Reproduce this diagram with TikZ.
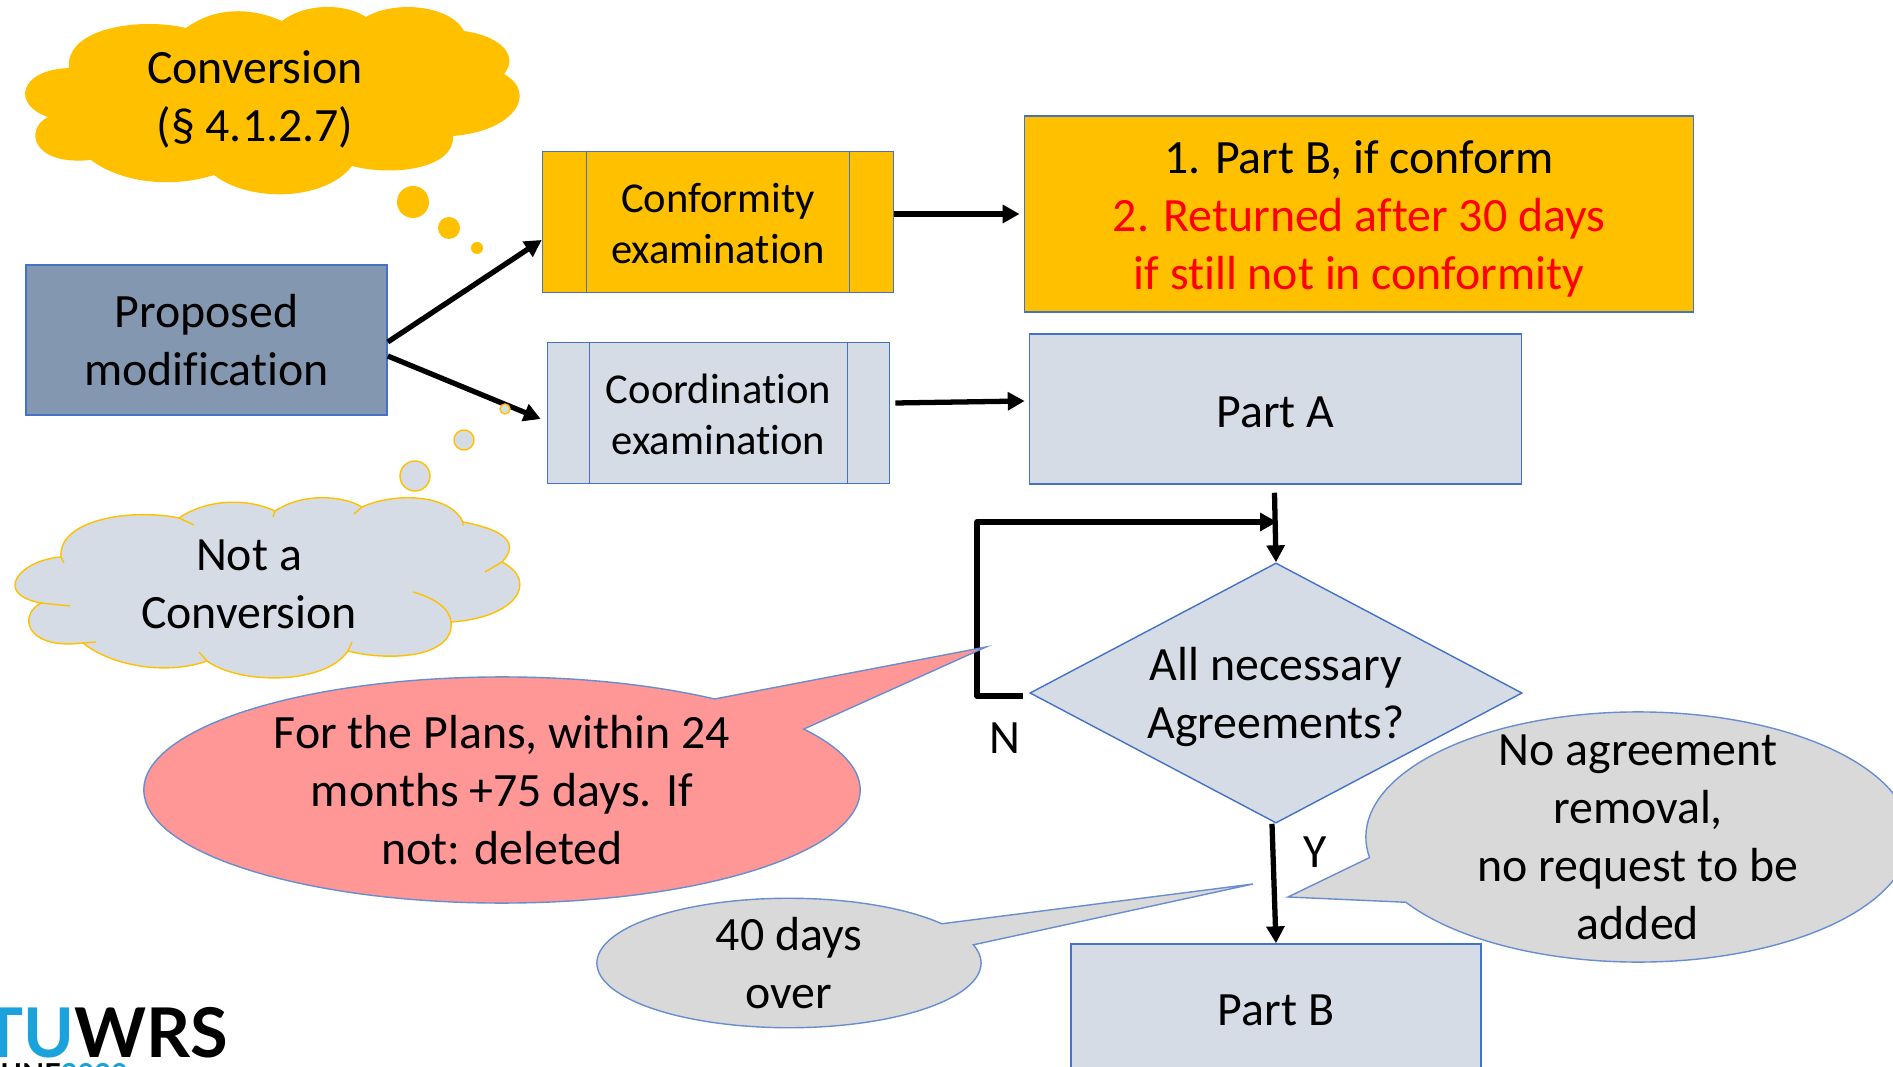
\documentclass[tikz,border=0pt]{standalone}
\usepackage{fontspec}
\setmainfont{Carlito}[Ligatures=NoCommon]
\newfontfamily\logofont{Lato}
\usepackage{tikz}
\usetikzlibrary{calc}
\usetikzlibrary{arrows.meta}
\usetikzlibrary{shapes.geometric}
\usetikzlibrary{shapes.callouts}
\definecolor{amber}{HTML}{FFC000}
\definecolor{paleblue}{HTML}{D6DCE5}
\definecolor{slateblue}{HTML}{8497B0}
\definecolor{edgeblue}{HTML}{4472C4}
\definecolor{salmon}{HTML}{FF9797}
\definecolor{callgrey}{HTML}{D9D9D9}
\definecolor{logoblue}{HTML}{1BA1DC}
\tikzset{
  every node/.style={font=\fontsize{13.6}{16.5}\selectfont, align=center},
  stepbox/.style={draw=edgeblue, line width=0.4pt, inner sep=0pt},
  smalltext/.style={font=\fontsize{12.1}{14.6}\selectfont, text height=23.8pt},
  bubble/.style={draw=edgeblue!80!white, line width=0.4pt, inner sep=0pt, ellipse callout},
  flow/.style={-{Triangle[length=4.8pt,width=5pt]}, line width=1.5pt, line join=round},
  cloudedge/.style={draw=amber, line width=0.4pt}
}

\begin{document}
\begin{tikzpicture}[x=0.01cm,y=-0.01cm]
    \useasboundingbox (0,0) rectangle (1893,1067);
    \clip (0,0) rectangle (1893,1067);

    % clouds
    \fill[amber] (186,28) .. controls (140,17) and (65,28) .. (69,68)
        .. controls (18,70) and (12,105) .. (48,117)
        .. controls (25,128) and (30,166) .. (91,160)
        .. controls (120,182) and (170,189) .. (214,175)
        .. controls (250,203) and (325,201) .. (352,166)
        .. controls (395,177) and (455,168) .. (453,136)
        .. controls (515,131) and (538,93) .. (504,74)
        .. controls (518,58) and (505,37) .. (464,31)
        .. controls (450,5) and (395,0) .. (366,17)
        .. controls (345,3) and (305,3) .. (282,21)
        .. controls (250,7) and (215,7) .. (186,28) -- cycle;
    \fill[amber] (413,202) ellipse[x radius=16, y radius=16];
    \fill[amber] (449,228) ellipse[x radius=11, y radius=11];
    \fill[amber] (477,248) ellipse[x radius=6, y radius=6];
    \node (conversion) at (255,99) {Conversion\\(§ 4.1.2.7)};

    \draw[cloudedge, fill=paleblue] (179,518) .. controls (130,508) and (58,520) .. (61,557)
        .. controls (20,560) and (-8,594) .. (41,603)
        .. controls (18,615) and (25,650) .. (83,643)
        .. controls (110,665) and (165,676) .. (207,661)
        .. controls (240,685) and (325,685) .. (348,651)
        .. controls (390,662) and (455,657) .. (451,622)
        .. controls (515,618) and (540,582) .. (502,562)
        .. controls (520,543) and (505,530) .. (463,522)
        .. controls (450,494) and (395,492) .. (362,507)
        .. controls (340,494) and (300,494) .. (275,511)
        .. controls (245,497) and (205,500) .. (179,518) -- cycle;
    \draw[cloudedge] (179,518) -- (194,525) (61,557) -- (64,563) (41,603) -- (70,606)
        (83,643) -- (96,642) (207,661) -- (199,652) (348,651) -- (352,642)
        (502,562) -- (485,572) (463,522) -- (463,526) (362,507) -- (354,514)
        (275,511) -- (273,517);
    \draw[cloudedge] (451,622) .. controls (450,609) and (435,598) .. (413,592);
    \node (noconversion) at (249,584) {Not a\\Conversion};

    % boxes
    \node[stepbox,text height=26.1pt,fill=slateblue,minimum width=3.61cm,minimum height=1.5cm] at (206.5,340) (prop) {Proposed\\modification};
    \node[stepbox,smalltext,fill=amber,minimum width=3.51cm,minimum height=1.41cm] at (718,222) (conf) {Conformity\\examination};
    \node[stepbox,smalltext,fill=paleblue,minimum width=3.42cm,minimum height=1.41cm] at (718.5,413) (coord) {Coordination\\examination};
    \node[stepbox,text height=45pt,fill=amber,minimum width=6.69cm,minimum height=1.96cm] at (1359,214) (result) {1. Part B, if conform\\\textcolor{red}{2. Returned after 30 days}\\\textcolor{red}{if still not in conformity}};
    \node[stepbox,text height=10.7pt,fill=paleblue,minimum width=4.92cm,minimum height=1.50cm] at (1275.5,409) (parta) {Part A};
    \node[stepbox,text height=9.4pt,fill=paleblue,minimum width=4.10cm,minimum height=1.30cm] at (1276,1009) (partb) {Part B};
    \node[stepbox,text height=28pt,fill=paleblue,diamond,aspect=1.89,minimum width=4.92cm,minimum height=2.60cm] at (1276,693) (need) {All necessary\\Agreements?};

    \draw[edgeblue, line width=0.4pt] ($(conf.north west)+(45,0)$) -- ($(conf.south west)+(45,0)$);
    \draw[edgeblue, line width=0.4pt] ($(conf.north east)+(-45,0)$) -- ($(conf.south east)+(-45,0)$);
    \draw[edgeblue, line width=0.4pt] ($(coord.north west)+(43,0)$) -- ($(coord.south west)+(43,0)$);
    \draw[edgeblue, line width=0.4pt] ($(coord.north east)+(-43,0)$) -- ($(coord.south east)+(-43,0)$);

    % arrows
    \coordinate (merge) at (1277,522);
    \draw[flow] ($(prop.east)+(0,2)$) -- ($(conf.west)+(0,18)$);
    \draw[flow] ($(prop.east)+(0,16)$) -- ($(coord.west)+(-6,6)$);
    \draw[flow] (conf.east |- result.west) -- ($(result.west)+(-4,0)$);
    \draw[flow] ($(coord.east)+(5,-10)$) -- ($(parta.west)+(-4,-8)$);
    \draw[flow] ($(parta.south)+(-1,8)$) -- (need.north);
    \draw[flow] ($(need.west)+(-6,3)$) -- (977,696) |- (merge);
    \draw[flow] ($(need.south)+(-4,0)$) -- (partb.north);
    \node (nolabel) at (1005,738) {N};
    \node (yeslabel) at (1315,852) {Y};

    % small clouds of the second thought
    \draw[cloudedge, fill=paleblue] (415,476) ellipse[x radius=15, y radius=15];
    \draw[cloudedge, fill=paleblue] (464,440) ellipse[x radius=10, y radius=10];
    \draw[cloudedge, fill=paleblue] (505,409) ellipse[x radius=5, y radius=5];

    % callouts
    \node[bubble,fill=salmon,minimum width=7.16cm,minimum height=2.26cm,callout pointer arc=21,callout absolute pointer={(986,647)}] at (502,790) (plans) {For the Plans, within 24\\months +75 days. If\\not: deleted};
    \node[bubble,fill=callgrey,inner ysep=-0.4cm,minimum width=5.44cm,minimum height=2.50cm,callout pointer arc=22,callout absolute pointer={(1288,897)}] at (1638,837) (removal) {No agreement\\removal,\\no request to be\\added};
    \node[bubble,fill=callgrey,minimum width=3.84cm,minimum height=1.28cm,callout pointer arc=21,callout absolute pointer={(1253,884)}] at (789,963) (days) {40 days\\over};

    % logo
    \node[anchor=base west,inner sep=0pt,font=\logofont\bfseries\fontsize{19.5}{19.5}\selectfont] at (-18,1057) (logo) {\textcolor{logoblue}{TU}WRS};
    \node[anchor=base west,inner sep=0pt,font=\logofont\bfseries\fontsize{8.2}{8.2}\selectfont] at (0,1084) (logodate) {UNE\textcolor{logoblue}{2020}};
\end{tikzpicture}
\end{document}
